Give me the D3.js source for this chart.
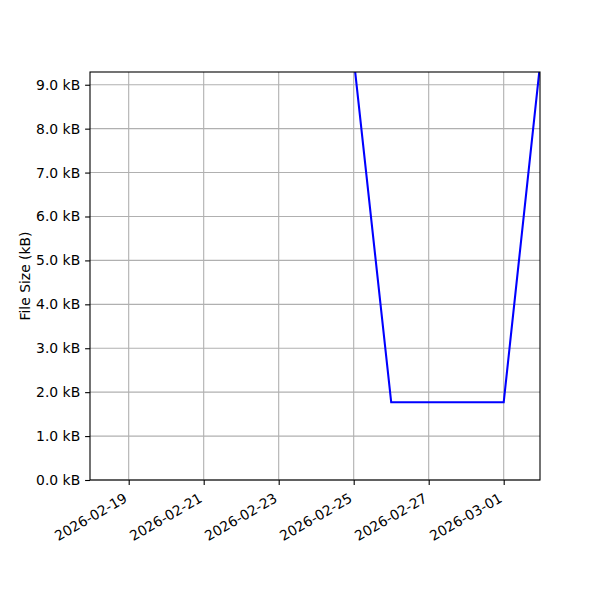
<!DOCTYPE html>
<html>
<head>
<meta charset="utf-8">
<script src="https://cdn.jsdelivr.net/npm/d3@7"></script>
<style>
  body { margin: 0; background: #fff; }
  text { font-family: "DejaVu Sans", sans-serif; }
</style>
</head>
<body>
<svg width="600" height="600"></svg>
<script>
const dates = ["2026-02-25", "2026-02-26", "2026-02-27", "2026-02-28", "2026-03-01", "2026-03-02"];
const sizesKB = [9.6, 1.77, 1.77, 1.77, 1.77, 9.7];
const xRange = ["2026-02-17T23:14", "2026-03-01T23:14"];
const yRange = [0, 9.29];
const xTickDates = ["2026-02-19", "2026-02-21", "2026-02-23", "2026-02-25", "2026-02-27", "2026-03-01"];
const yTicks = [0, 1, 2, 3, 4, 5, 6, 7, 8, 9];
const yLabel = "File Size (kB)";

const svg = d3.select("svg");
const margin = { left: 90, right: 60, top: 72, bottom: 120 };
const inner = { width: 600 - margin.left - margin.right, height: 600 - margin.top - margin.bottom };
const fontSize = 13.9;

const parseDay = d3.timeParse("%Y-%m-%d");
const parseTime = d3.timeParse("%Y-%m-%dT%H:%M");
const data = dates.map((d, i) => ({ date: parseDay(d), size: sizesKB[i] }));

const xScale = d3.scaleTime().domain(xRange.map(parseTime)).range([0, inner.width]);
const yScale = d3.scaleLinear().domain(yRange).range([inner.height, 0]);

const g = svg.append("g").attr("transform", `translate(${margin.left},${margin.top})`);

svg.append("defs").append("clipPath").attr("id", "clip")
  .append("rect").attr("width", inner.width).attr("height", inner.height);

// grid
g.append("g")
  .selectAll("line")
  .data(xTickDates.map(parseDay))
  .enter().append("line")
  .attr("x1", (d) => xScale(d)).attr("x2", (d) => xScale(d))
  .attr("y1", 0).attr("y2", inner.height)
  .attr("stroke", "#b0b0b0").attr("stroke-width", 1.1);
g.append("g")
  .selectAll("line")
  .data(yTicks)
  .enter().append("line")
  .attr("y1", (d) => yScale(d)).attr("y2", (d) => yScale(d))
  .attr("x1", 0).attr("x2", inner.width)
  .attr("stroke", "#b0b0b0").attr("stroke-width", 1.1);

// line
const line = d3.line().x((d) => xScale(d.date)).y((d) => yScale(d.size));
g.append("path")
  .datum(data)
  .attr("clip-path", "url(#clip)")
  .attr("d", line)
  .attr("fill", "none")
  .attr("stroke", "#0000ff")
  .attr("stroke-width", 2.08);

// axes
const yAxis = d3.axisLeft(yScale)
  .tickValues(yTicks)
  .tickSize(4.9)
  .tickPadding(4.9)
  .tickFormat((d) => d3.format(".1f")(d) + " kB");
const yG = g.append("g").call(yAxis);
yG.select(".domain").remove();
yG.selectAll("line").attr("stroke", "#000").attr("stroke-width", 1.1);
yG.selectAll("text").attr("font-size", fontSize).attr("font-family", "DejaVu Sans").attr("fill", "#000");

const xAxis = d3.axisBottom(xScale)
  .tickValues(xTickDates.map(parseDay))
  .tickSize(4.9)
  .tickFormat(d3.timeFormat("%Y-%m-%d"));
const xG = g.append("g").attr("transform", `translate(0,${inner.height})`).call(xAxis);
xG.select(".domain").remove();
xG.selectAll("line").attr("stroke", "#000").attr("stroke-width", 1.1);
xG.selectAll("text")
  .attr("font-size", fontSize)
  .attr("font-family", "DejaVu Sans")
  .attr("fill", "#000")
  .attr("text-anchor", "end")
  .attr("dy", null)
  .attr("y", null)
  .attr("transform", "translate(-1,21) rotate(-30)");

// frame
g.append("rect")
  .attr("width", inner.width).attr("height", inner.height)
  .attr("fill", "none").attr("stroke", "#000").attr("stroke-width", 1.1);

svg.append("text")
  .text(yLabel)
  .attr("font-size", fontSize)
  .attr("text-anchor", "middle")
  .attr("transform", `translate(30,${margin.top + inner.height / 2}) rotate(-90)`);
</script>
</body>
</html>
